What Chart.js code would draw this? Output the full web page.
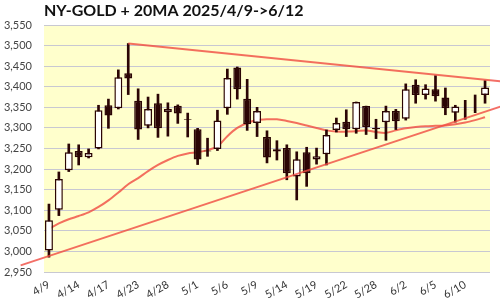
<!DOCTYPE html>
<html><head><meta charset="utf-8">
<script src="https://cdn.jsdelivr.net/npm/chart.js@4"></script>
<style>html,body{margin:0;padding:0;background:#fff}</style>
</head><body>
<canvas id="c" width="500" height="300" style="width:500px;height:300px;display:block"></canvas>
<script>
const titleText = 'NY-GOLD + 20MA 2025/4/9->6/12';
const dates = ['4/9','4/10','4/11','4/14','4/15','4/16','4/17','4/21','4/22','4/23','4/24','4/25','4/28','4/29','4/30',
  '5/1','5/2','5/5','5/6','5/7','5/8','5/9','5/12','5/13','5/14','5/15','5/16','5/19','5/20','5/21','5/22','5/23','5/27','5/28','5/29','5/30',
  '6/2','6/3','6/4','6/5','6/6','6/9','6/10','6/11','6/12'];
const openP  = [3002,3101,3197,3244,3229,3250,3355,3348,3433,3366,3305,3360,3338,3354,3321,3297,3245,3249,3348,3447,3371,3312,3278,3243,3251,3182,3241,3223,3236,3295,3315,3297,3353,3300,3314,3341,3322,3405,3380,3394,3374,3337,3345,3342,3380];
const highP  = [3115,3193,3261,3259,3249,3355,3370,3441,3505,3395,3375,3382,3361,3356,3336,3299,3275,3343,3443,3448,3418,3350,3293,3269,3259,3242,3253,3251,3295,3324,3344,3363,3353,3321,3353,3345,3407,3417,3405,3427,3397,3355,3367,3380,3415];
const lowP   = [2986,3087,3194,3210,3227,3249,3299,3346,3381,3272,3300,3277,3280,3311,3278,3211,3231,3245,3333,3370,3294,3279,3215,3222,3174,3125,3158,3212,3210,3290,3279,3287,3284,3274,3270,3296,3319,3360,3370,3365,3332,3314,3321,3337,3360];
const closeP = [3076,3176,3241,3229,3239,3343,3330,3423,3420,3296,3346,3299,3346,3335,3319,3223,3243,3318,3421,3394,3309,3341,3228,3248,3190,3224,3190,3231,3283,3312,3297,3363,3302,3297,3341,3316,3394,3380,3396,3377,3348,3352,3344,3341,3398];
const ma20   = [3055,3068,3078,3086,3095,3108,3124,3143,3163,3178,3195,3210,3222,3232,3238,3241,3246,3255,3280,3300,3312,3319,3321,3321,3317,3312,3306,3300,3294,3291,3291,3292,3294,3290,3288,3294,3299,3302,3304,3305,3306,3309,3313,3319,3326];
const upperTrendX = [8, 45.6];
const upperTrendY = [3505, 3413];
const lowerTrendX = [-2.86, 45.6];
const lowerTrendY = [2966, 3352];
const yMin = 2950, yMax = 3550, yStep = 50;

const DARK = '#2b0505';
const LINE = 'rgba(240,75,65,0.8)';
const bodies = openP.map((o,i)=>[o, closeP[i]]);
const wicks = lowP.map((l,i)=>[l, highP[i]]);
const bodyColors = openP.map((o,i)=> closeP[i] >= o ? '#ffffff' : DARK);

const bgPlugin = {
  id: 'bgTitle',
  beforeDraw(chart){
    const {ctx, chartArea:a} = chart;
    ctx.save();
    ctx.fillStyle = '#ffffcc';
    ctx.fillRect(a.left, a.top, a.right-a.left, a.bottom-a.top);
    ctx.restore();
  },
  afterDraw(chart){
    const {ctx, chartArea:a} = chart;
    ctx.save();
    ctx.font = 'bold 16px Lato';
    ctx.fillStyle = '#111';
    ctx.textBaseline = 'middle';
    ctx.textAlign = 'left';
    ctx.fillText(titleText, a.left, 11);
    ctx.restore();
  }
};

new Chart(document.getElementById('c'), {
  data: {
    labels: dates,
    datasets: [
      { type:'bar', data: bodies, backgroundColor: bodyColors, borderColor: DARK, borderWidth: 1.5,
        borderSkipped: false, grouped: false, barPercentage: 0.8, categoryPercentage: 1, order: 1 },
      { type:'bar', data: wicks, backgroundColor: DARK, borderWidth: 0, grouped: false,
        barThickness: 2, order: 2 },
      { type:'line', data: ma20, borderColor: LINE, borderWidth: 2, pointRadius: 0, tension: 0.3, order: 3 },
      { type:'line', xAxisID:'xt', data: upperTrendX.map((x,i)=>({x, y: upperTrendY[i]})), borderColor: LINE,
        borderWidth: 2, pointRadius: 0, clip: false, order: 0 },
      { type:'line', xAxisID:'xt', data: lowerTrendX.map((x,i)=>({x, y: lowerTrendY[i]})), borderColor: LINE,
        borderWidth: 2, pointRadius: 0, clip: false, order: 0 }
    ]
  },
  options: {
    responsive: false, animation: false, devicePixelRatio: 1,
    layout: { padding: { top: 25, right: 10, left: 0, bottom: 0 } },
    plugins: { legend: { display: false }, tooltip: { enabled: false }, title: { display: false } },
    scales: {
      x: {
        type: 'category', offset: true,
        grid: { display: false, drawTicks: false }, border: { display: false },
        ticks: { autoSkip: false, minRotation: 30, maxRotation: 30, padding: 6, color: '#333',
          font: { family: 'Lato', size: 11 },
          callback: (v, i) => i % 3 === 0 ? dates[i] : '' },
        afterFit: s => { s.height = 28; }
      },
      xt: { type: 'linear', display: false, min: -0.5, max: dates.length - 0.5 },
      y: {
        min: yMin, max: yMax,
        grid: { color: '#c8c8d2', lineWidth: 1, drawTicks: false }, border: { display: false },
        ticks: { stepSize: yStep, padding: 12, color: '#444', font: { family: 'Lato', size: 11 },
          callback: v => v.toLocaleString('en-US') },
        afterFit: s => { s.width = 44; }
      }
    }
  },
  plugins: [bgPlugin]
});
</script>
</body></html>
